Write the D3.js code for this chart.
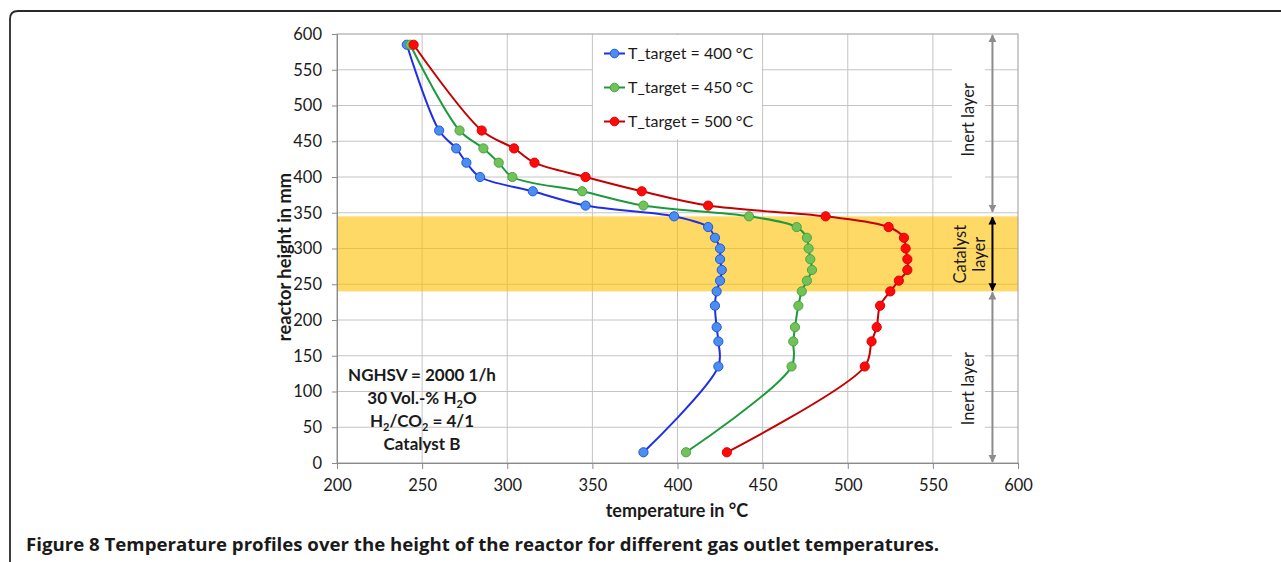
<!DOCTYPE html>
<html>
<head>
<meta charset="utf-8">
<script src="https://cdn.jsdelivr.net/npm/d3@7"></script>
<style>
  body { margin: 0; background: #fff; }
  text { font-family: Lato, Calibri, "Open Sans", sans-serif; fill: #1a1a1a; }
</style>
</head>
<body>
<div class="chart"></div>
<script>
// Temperature profiles over reactor height

var heights = [585, 465, 440, 420, 400, 380, 360, 345, 330, 315, 300, 285, 270, 255, 240, 220, 190, 170, 135, 15];
var temp400 = [241, 260, 270, 276, 284, 315, 346, 398, 418, 422, 425, 425, 426, 425, 423, 422, 423, 424, 424, 380];
var temp450 = [243, 272, 286, 295, 303, 344, 380, 442, 470, 476, 477, 478, 479, 476, 473, 471, 469, 468, 467, 405];
var temp500 = [245, 285, 304, 316, 346, 379, 418, 487, 524, 533, 534, 535, 535, 530, 525, 519, 517, 514, 510, 429];
var seriesNames = ["T_target = 400 °C", "T_target = 450 °C", "T_target = 500 °C"];
var xTicks = [200, 250, 300, 350, 400, 450, 500, 550, 600];
var yTicks = [0, 50, 100, 150, 200, 250, 300, 350, 400, 450, 500, 550, 600];
var catalystLayer = [240, 345];
var inertTop = [350, 600];
var inertBottom = [0, 240];

var series = [
    {name: seriesNames[0], values: temp400, line: "#1f2fe6", fill: "#4a8ef2", stroke: "#2456d6"},
    {name: seriesNames[1], values: temp450, line: "#1c9a3c", fill: "#72c257", stroke: "#48a444"},
    {name: seriesNames[2], values: temp500, line: "#c40000", fill: "#ff0a0a", stroke: "#e00000"}
];

var width = 1281, height = 562;
var plot = {left: 337, right: 1018, top: 34, bottom: 463};

var svg = d3.select('.chart')
    .append('svg')
        .attr('width', width)
        .attr('height', height)
        .style('display', 'block');

// frame round the figure
svg.append("path")
    .attr("d", "M10,562 L10,19 Q10,11 18,11 L1281,11")
    .attr("fill", "none")
    .attr("stroke", "#2a2a2a")
    .attr("stroke-width", 1.8);

var x = d3.scaleLinear().domain([200, 600]).range([plot.left, plot.right]);
var y = d3.scaleLinear().domain([0, 600]).range([plot.bottom, plot.top]);

// grid
var grid = svg.append("g").attr("stroke", "#c4c4c4").attr("stroke-width", 1);
grid.selectAll(".vg")
    .data(xTicks.slice(1, -1))
    .enter()
    .append("line")
        .attr("x1", function(d) { return x(d); })
        .attr("x2", function(d) { return x(d); })
        .attr("y1", y(600))
        .attr("y2", y(0));
grid.selectAll(".hg")
    .data(yTicks.slice(1, -1))
    .enter()
    .append("line")
        .attr("x1", x(200))
        .attr("x2", x(600))
        .attr("y1", function(d) { return y(d); })
        .attr("y2", function(d) { return y(d); });

// catalyst band
svg.append("rect")
    .attr("x", x(200))
    .attr("width", x(600) - x(200))
    .attr("y", y(catalystLayer[1]))
    .attr("height", y(catalystLayer[0]) - y(catalystLayer[1]))
    .attr("fill", "#ffc000")
    .attr("fill-opacity", 0.6);

// white boxes behind legend and inert labels
svg.append("rect").attr("x", 593).attr("y", y(600) + 1).attr("width", x(450) - 594).attr("height", 104).attr("fill", "#fff");
svg.append("rect").attr("x", 952).attr("y", y(585)).attr("width", 33).attr("height", y(375) - y(585)).attr("fill", "#fff");
svg.append("rect").attr("x", 952).attr("y", y(178)).attr("width", 33).attr("height", y(5) - y(178)).attr("fill", "#fff");

// plot border
svg.append("rect")
    .attr("x", x(200))
    .attr("y", y(600))
    .attr("width", x(600) - x(200))
    .attr("height", y(0) - y(600))
    .attr("fill", "none")
    .attr("stroke", "#9a9a9a");

// axes
var xAxis = svg.append("g")
    .attr("transform", "translate(0," + plot.bottom + ")")
    .call(d3.axisBottom(x).tickValues(xTicks).tickSize(6).tickSizeOuter(0).tickPadding(10));
var yAxis = svg.append("g")
    .attr("transform", "translate(" + plot.left + ",0)")
    .call(d3.axisLeft(y).tickValues(yTicks).tickSize(5).tickSizeOuter(0).tickPadding(10));
[xAxis, yAxis].forEach(function(a) {
    a.select(".domain").attr("stroke", "#8a8a8a");
    a.selectAll(".tick line").attr("stroke", "#8a8a8a");
    a.selectAll(".tick text")
        .style("font-family", "Lato, Calibri, sans-serif")
        .style("font-size", "16.5px")
        .attr("fill", "#1a1a1a");
});

svg.append("text")
    .attr("x", 677).attr("y", 517)
    .attr("text-anchor", "middle")
    .style("font-size", "18px").style("font-weight", "bold")
    .text("temperature in °C");

svg.append("text")
    .attr("transform", "translate(291,257) rotate(-90)")
    .attr("text-anchor", "middle")
    .style("font-size", "18.3px").style("font-weight", "bold")
    .text("reactor height in mm");

// layer arrows
var defs = svg.append("defs");
[["gray", "#8c8c8c"], ["black", "#000"]].forEach(function(m) {
    defs.append("marker")
        .attr("id", "arr-" + m[0])
        .attr("viewBox", "0 0 10 10")
        .attr("refX", 9).attr("refY", 5)
        .attr("markerWidth", 4).attr("markerHeight", 4)
        .attr("orient", "auto-start-reverse")
        .append("path")
            .attr("d", "M0,0 L10,5 L0,10 z")
            .attr("fill", m[1]);
});
var arrows = [
    {range: inertTop, color: "#8c8c8c", id: "gray"},
    {range: catalystLayer, color: "#000", id: "black"},
    {range: inertBottom, color: "#8c8c8c", id: "gray"}
];
svg.selectAll(".arrow")
    .data(arrows)
    .enter()
    .append("line")
        .attr("x1", x(585)).attr("x2", x(585))
        .attr("y1", function(d) { return y(d.range[1]) + 1; })
        .attr("y2", function(d) { return y(d.range[0]) - 1; })
        .attr("stroke", function(d) { return d.color; })
        .attr("stroke-width", 2)
        .attr("marker-start", function(d) { return "url(#arr-" + d.id + ")"; })
        .attr("marker-end", function(d) { return "url(#arr-" + d.id + ")"; });

var layerLabels = [
    {text: "Inert layer", t: 570.5, h: 480},
    {text: "Catalyst", t: 566, h: 292},
    {text: "layer", t: 577.5, h: 292},
    {text: "Inert layer", t: 570.5, h: 104}
];
svg.selectAll(".layer-label")
    .data(layerLabels)
    .enter()
    .append("text")
        .attr("transform", function(d) { return "translate(" + x(d.t) + "," + y(d.h) + ") rotate(-90)"; })
        .attr("text-anchor", "middle")
        .attr("dy", "0.35em")
        .style("font-size", "16.5px")
        .text(function(d) { return d.text; });

// curves
var line = d3.line()
    .x(function(d) { return x(d[0]); })
    .y(function(d) { return y(d[1]); })
    .curve(d3.curveCatmullRom.alpha(0.5));

series.forEach(function(s) {
    var pts = s.values.map(function(v, i) { return [v, heights[i]]; });
    svg.append("path")
        .attr("d", line(pts))
        .attr("fill", "none")
        .attr("stroke", s.line)
        .attr("stroke-width", 2);
    svg.selectAll(null)
        .data(pts)
        .enter()
        .append("circle")
            .attr("cx", function(d) { return x(d[0]); })
            .attr("cy", function(d) { return y(d[1]); })
            .attr("r", 4.6)
            .attr("fill", s.fill)
            .attr("stroke", s.stroke)
            .attr("stroke-width", 1);
});

// legend
var legend = svg.selectAll(".legend")
    .data(series)
    .enter()
    .append("g")
        .attr("transform", function(d, i) { return "translate(604," + (53.5 + i * 34) + ")"; });
legend.append("line")
    .attr("x1", 0).attr("x2", 21)
    .attr("stroke", function(d) { return d.line; })
    .attr("stroke-width", 2);
legend.append("circle")
    .attr("cx", 10.5).attr("r", 4.3)
    .attr("fill", function(d) { return d.fill; })
    .attr("stroke", function(d) { return d.stroke; });
legend.append("text")
    .attr("x", 24).attr("dy", "0.35em")
    .style("font-size", "16px")
    .text(function(d) { return d.name; });

// conditions box
var info = svg.append("text")
    .attr("text-anchor", "middle")
    .style("font-size", "17px")
    .style("font-weight", "bold");
info.append("tspan").attr("x", 422).attr("y", 381).text("NGHSV = 2000 1/h");
var l2 = info.append("tspan").attr("x", 422).attr("y", 404);
l2.append("tspan").text("30 Vol.-% H");
l2.append("tspan").attr("dy", 4).style("font-size", "11px").text("2");
l2.append("tspan").attr("dy", -4).text("O");
var l3 = info.append("tspan").attr("x", 422).attr("y", 427);
l3.append("tspan").text("H");
l3.append("tspan").attr("dy", 4).style("font-size", "11px").text("2");
l3.append("tspan").attr("dy", -4).text("/CO");
l3.append("tspan").attr("dy", 4).style("font-size", "11px").text("2");
l3.append("tspan").attr("dy", -4).text(" = 4/1");
info.append("tspan").attr("x", 422).attr("y", 450).text("Catalyst B");

// caption
var caption = svg.append("text")
    .attr("x", 26).attr("y", 551)
    .style("font-family", "'Open Sans', 'Noto Sans', sans-serif")
    .style("font-size", "17px")
    .style("font-weight", "bold");
caption.append("tspan").text("Figure 8 ");
caption.append("tspan").text("Temperature profiles over the height of the reactor for different gas outlet temperatures.");
var capW = caption.node().getComputedTextLength();
caption.style("font-size", (17 * 914 / capW) + "px");
</script>
</body>
</html>
